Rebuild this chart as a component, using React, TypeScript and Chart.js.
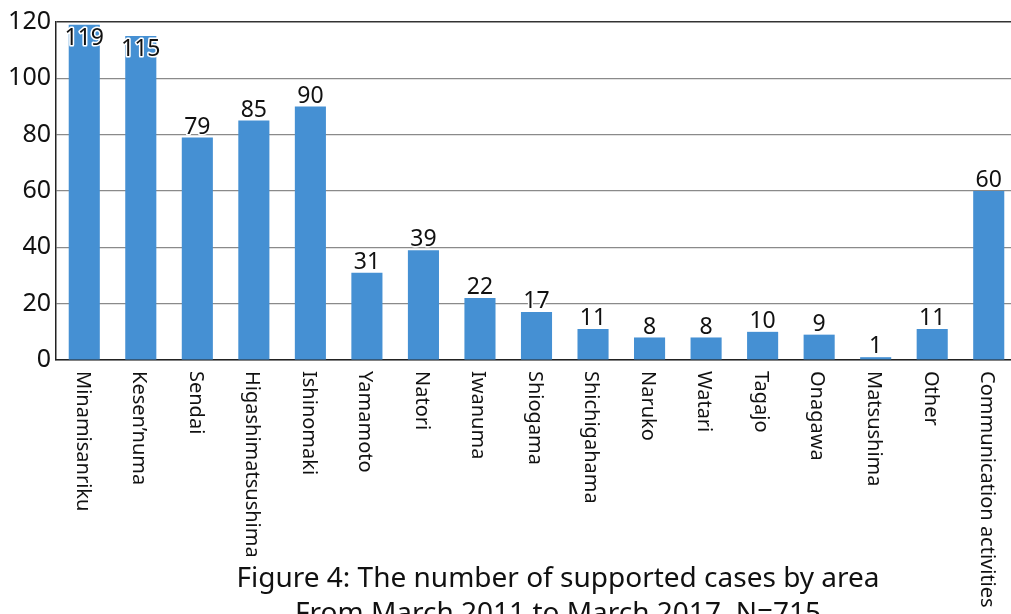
import React, { useEffect, useRef } from "react";
import { Chart, registerables } from "chart.js";

Chart.register(...registerables);

const categories = [
  "Minamisanriku", "Kesen\u2019numa", "Sendai", "Higashimatsushima", "Ishinomaki",
  "Yamamoto", "Natori", "Iwanuma", "Shiogama", "Shichigahama", "Naruko",
  "Watari", "Tagajo", "Onagawa", "Matsushima", "Other", "Communication activities",
];
const cases = [119, 115, 79, 85, 90, 31, 39, 22, 17, 11, 8, 8, 10, 9, 1, 11, 60];
const titleLines = [
  "Figure 4: The number of supported cases by area",
  "From March 2011 to March 2017, N=715",
];
const yMin = 0;
const yMax = 120;
const yStep = 20;

const FONT = "'Noto Sans', 'Open Sans', sans-serif";

const customText = {
  id: "customText",
  afterDatasetsDraw(chart: any) {
    const ctx = chart.ctx;
    const meta = chart.getDatasetMeta(0);
    const yScale = chart.scales.y;
    ctx.save();
    ctx.font = `23px ${FONT}`;
    ctx.textAlign = "center";
    ctx.lineJoin = "round";
    meta.data.forEach((bar: any, i: number) => {
      const v = cases[i];
      const top = yScale.getPixelForValue(v);
      let y: number;
      if (top - 28 < chart.chartArea.top) {
        ctx.textBaseline = "top";
        y = Math.max(top + 2, chart.chartArea.top);
      } else {
        ctx.textBaseline = "bottom";
        y = top + 1;
      }
      ctx.strokeStyle = "#ffffff";
      ctx.lineWidth = 3;
      ctx.strokeText(String(v), bar.x, y);
      ctx.fillStyle = "#111111";
      ctx.fillText(String(v), bar.x, y);
    });
    ctx.restore();
  },
  afterDraw(chart: any) {
    const ctx = chart.ctx;
    const xScale = chart.scales.x;
    const bottom = chart.chartArea.bottom;
    ctx.save();
    ctx.font = `20px ${FONT}`;
    ctx.fillStyle = "#111111";
    ctx.textAlign = "left";
    ctx.textBaseline = "middle";
    categories.forEach((c, i) => {
      const x = xScale.getPixelForValue(i) - 2;
      ctx.save();
      ctx.translate(x, bottom + 11);
      ctx.rotate(Math.PI / 2);
      ctx.fillText(c, 0, 0);
      ctx.restore();
    });
    ctx.font = `28px ${FONT}`;
    ctx.textAlign = "center";
    ctx.textBaseline = "middle";
    ctx.fillText(titleLines[0], 558, bottom + 219);
    ctx.fillText(titleLines[1], 558, bottom + 254);
    ctx.restore();
  },
};

export default function App() {
  const ref = useRef<HTMLCanvasElement | null>(null);
  useEffect(() => {
    if (!ref.current) return;
    const chart = new Chart(ref.current, {
      type: "bar",
      data: {
        labels: categories,
        datasets: [
          {
            data: cases,
            backgroundColor: "#4590d3",
            borderWidth: 0,
            categoryPercentage: 1,
            barPercentage: 0.55,
          },
        ],
      },
      options: {
        animation: false,
        responsive: false,
        maintainAspectRatio: false,
        layout: { padding: { top: 22, bottom: 254, left: 0, right: 0 } },
        plugins: {
          legend: { display: false },
          tooltip: { enabled: false },
          title: { display: false },
        },
        scales: {
          x: {
            grid: { display: false, drawTicks: false },
            border: { display: true, color: "#222222", width: 1.5 },
            ticks: { display: false },
            afterFit: (s: any) => {
              s.height = 0;
            },
          },
          y: {
            min: yMin,
            max: yMax,
            ticks: {
              stepSize: yStep,
              padding: 5,
              color: "#111111",
              font: { family: FONT, size: 25 },
            },
            grid: {
              drawTicks: false,
              color: (c: any) => (c.tick && c.tick.value === yMax ? "#333333" : "#8a8a8a"),
              lineWidth: (c: any) => (c.tick && c.tick.value === yMax ? 1.5 : 1.2),
            },
            border: { display: true, color: "#222222", width: 1.5 },
            afterFit: (s: any) => {
              s.width = 56;
            },
          },
        },
      },
      plugins: [customText],
    });
    return () => chart.destroy();
  }, []);
  return (
    <div
      style={{
        position: "absolute",
        left: 0,
        top: 0,
        width: 1011,
        height: 614,
        overflow: "hidden",
        background: "#ffffff",
      }}
    >
      <canvas ref={ref} width={1017} height={614} style={{ display: "block" }} />
    </div>
  );
}
